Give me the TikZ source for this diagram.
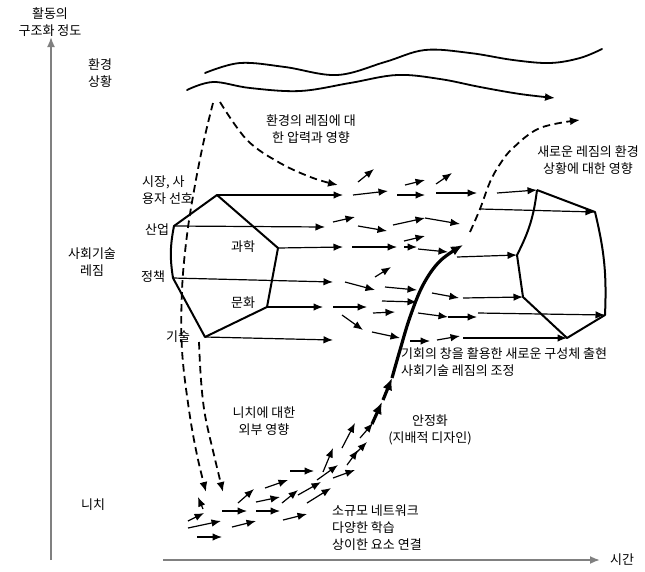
\documentclass[tikz,border=0pt]{standalone}
\usepackage{fontspec}
\setmainfont{Noto Sans CJK KR}
\usetikzlibrary{arrows.meta}
\begin{document}
\begin{tikzpicture}[x=1pt,y=-1pt,
  lbl/.style={font=\fontsize{13}{17}\selectfont, inner sep=0pt, align=center},
  arr/.style={line width=1.2pt, -{Latex[length=9.5pt,width=7.5pt]}},
  poly/.style={line width=2pt, line join=round},
  dsh/.style={line width=1.8pt, dash pattern=on 7.5pt off 4.5pt, -{Latex[length=10pt,width=8pt]}},
  wave/.style={line width=1.8pt, line cap=round},
  boldarr/.style={line width=3.2pt, -{Latex[length=12pt,width=10pt]}},
  axisline/.style={line width=1.8pt, draw=black!50, -{Latex[length=10pt,width=8pt]}}
]
\useasboundingbox (0,0) rectangle (645,571);

% axes
\coordinate (vb) at (51,560);
\coordinate (vt) at (51,37);
\coordinate (hl) at (163,560);
\coordinate (hr) at (600,560);
\draw[axisline] (vb) -- (vt);
\draw[axisline] (hl) -- (hr);

% axis / level labels
\node[lbl] (yl) at (50,22) {활동의\\구조화 정도};
\node[lbl] (env) at (100,73) {환경\\상황};
\node[lbl] (reg) at (92,262) {사회기술\\레짐};
\node[lbl] (nic) at (93,505) {니치};
\node[lbl] (tim) at (622,560) {시간};

% landscape waves
\draw[wave] plot[smooth, tension=0.6] coordinates {(205,73) (240,63) (285,67) (337,75) (385,62) (425,50) (470,53) (513,60) (550,63) (580,58) (602,49)};
\draw[wave, -{Latex[length=10pt,width=8pt]}] plot[smooth, tension=0.6] coordinates {(187,90) (213,82) (250,88) (300,91) (350,83) (397,75) (440,79) (480,87) (520,94) (555,98)};

% dashed influences
\draw[dsh] plot[smooth, tension=0.6] coordinates {(213,103) (204,140) (195,185) (187,235) (182,290) (182,350) (189,410) (197,455) (206,492)};
\draw[dsh] plot[smooth, tension=0.6] coordinates {(199,342) (201,380) (205,415) (214,455) (223,492)};
\draw[dsh] plot[smooth, tension=0.6] coordinates {(220,102) (247,140) (280,163) (313,178) (338,185)};
\draw[dsh] plot[smooth, tension=0.6] coordinates {(470,232) (480,209) (490,182) (500,164) (513,148) (540,128) (580,120)};

% old regime polygon
\coordinate (oT) at (217,195);
\coordinate (oI) at (174,226);
\coordinate (oS) at (278,248);
\coordinate (oP) at (173,278);
\coordinate (oC) at (267,307);
\coordinate (oK) at (205,337);
\draw[poly] (oT) -- (oS) -- (oC) -- (oK) -- (oP) to[bend left=10] (oI) -- cycle;

\node[lbl, anchor=west, align=left] (mk) at (142,190) {시장, 사\\용자 선호};
\node[lbl] (ind) at (157,230) {산업};
\node[lbl] (pol) at (153,277) {정책};
\node[lbl] (tec) at (178,337) {기술};
\node[lbl] (sci) at (243,247) {과학};
\node[lbl] (cul) at (243,303) {문화};

\draw[arr] (oT) -- (343,195);
\draw[arr] (oI) -- (325,227);
\draw[arr] (oS) -- (343,247);
\draw[arr] (oP) -- (333,282);
\draw[arr] (oC) -- (323,307);
\draw[arr] (oK) -- (333,340);

% new regime polygon
\coordinate (nA) at (537,190);
\coordinate (nB) at (595,212);
\coordinate (nC) at (605,315);
\coordinate (nD) at (567,338);
\coordinate (nE) at (523,297);
\coordinate (nF) at (517,255);
\draw[poly] (nA) -- (nB) to[bend left=8] (nC) -- (nD) -- (nE) -- (nF) to[bend right=10] (nA);

% arrows into new polygon
\draw[arr] (497,193) -- (nA);
\draw[arr] (480,209) -- (nB);
\draw[arr] (457,257) -- (nF);
\draw[arr] (463,298) -- (nE);
\draw[arr] (478,313) -- (nC);
\draw[arr] (463,338) -- (nD);

% regime arrow field
\foreach \a/\b/\c/\d in {
 358/182/374/169, 405/185/425/180, 436/184/452/173,
 353/195/388/191, 397/195/425/195, 436/193/477/193,
 333/222/355/217, 358/226/387/231, 393/225/425/218, 425/218/460/224,
 352/247/397/247, 404/241/425/236, 404/247/417/247, 418/249/448/252,
 375/277/391/267, 345/282/375/290, 385/287/417/290, 382/301/417/302, 432/293/459/298,
 333/307/367/307, 373/313/395/312, 418/313/448/317, 448/317/477/317,
 342/315/363/330, 372/332/400/338, 410/341/430/341, 437/340/460/336}
 \draw[arr] (\a,\b) -- (\c,\d);

% niche arrow field
\foreach \a/\b/\c/\d in {
 203/509/198/497, 188/521/204/513, 188/528/221/521, 197/537/222/537,
 222/511/247/511, 232/527/256/521, 238/503/254/489, 256/502/280/497,
 256/511/280/511, 265/488/288/480, 283/520/307/514, 282/503/298/490,
 298/495/321/482, 290/471/314/471, 307/503/331/488, 317/480/338/465,
 323/472/333/448, 333/478/355/470, 347/465/358/450, 342/448/355/423,
 352/457/367/442, 360/438/373/423}
 \draw[arr] (\a,\b) -- (\c,\d);

% stabilisation trajectory
\draw[boldarr] (372,424) -- (382,402);
\draw[boldarr] (383,400) -- (392,378);
\draw[boldarr] plot[smooth, tension=0.6] coordinates {(392,378) (400,350) (410,317) (423,285) (440,261) (463,245)};

% annotations
\node[lbl] (t1) at (311,129) {환경의 레짐에 대\\한 압력과 영향};
\node[lbl] (t2) at (588,160) {새로운 레짐의 환경\\상황에 대한 영향};
\node[lbl, anchor=west, align=left] (t3) at (401,362) {기회의 창을 활용한 새로운 구성체 출현\\사회기술 레짐의 조정};
\node[lbl] (t4) at (264,421) {니치에 대한\\외부 영향};
\node[lbl] (t5) at (430,430) {안정화\\(지배적 디자인)};
\node[lbl, anchor=west, align=left] (t6) at (332,528) {소규모 네트워크\\다양한 학습\\상이한 요소 연결};
\end{tikzpicture}
\end{document}
